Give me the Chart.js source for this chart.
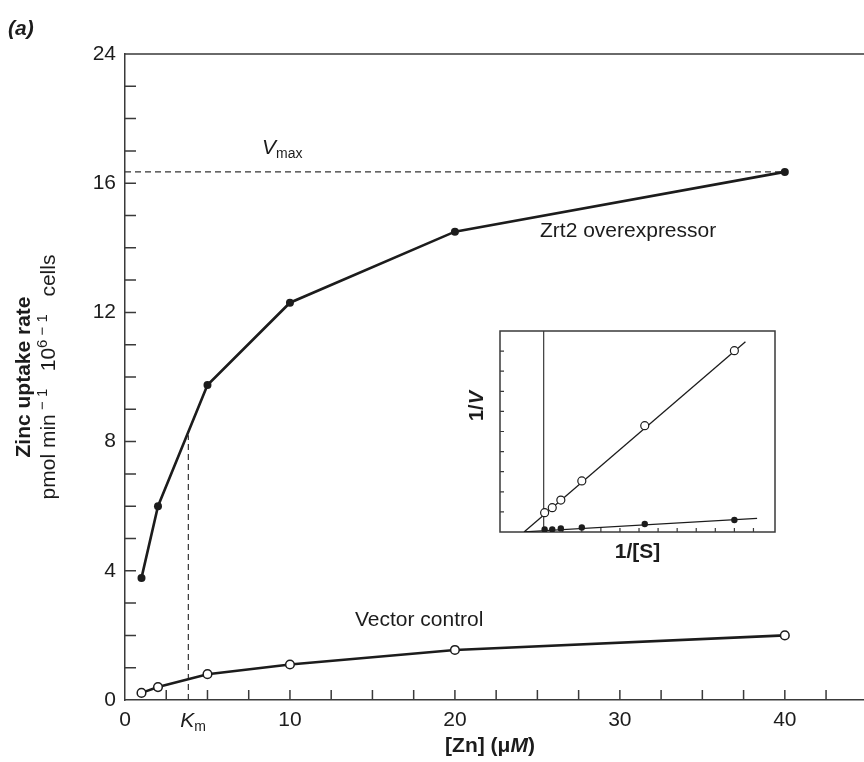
<!DOCTYPE html>
<html>
<head>
<meta charset="utf-8">
<script src="https://cdn.jsdelivr.net/npm/chart.js@4.4.1/dist/chart.umd.min.js"></script>
<style>
  html, body { margin: 0; padding: 0; background: #fff; }
  #wrap { position: relative; width: 864px; height: 762px; overflow: hidden; }
  #mainChart { position: absolute; left: 0; top: 0; }
  #insetChart { position: absolute; left: 455px; top: 320px; }
</style>
</head>
<body>
<div id="wrap">
  <canvas id="mainChart" width="872" height="762"></canvas>
  <canvas id="insetChart" width="335" height="255"></canvas>
</div>
<script>
// main plot data
const zincConc = [1, 2, 5, 10, 20, 40];
const zrt2Rate = [3.78, 6.0, 9.75, 12.3, 14.5, 16.35];
const vectorRate = [0.22, 0.4, 0.8, 1.1, 1.55, 2.0];
const vmaxValue = 16.35;
const kmValue = 3.84;
const kmTop = 8.2;

// y tick labels (the original figure prints "24" at the top tick)
const yLabelValues = [0, 4, 8, 12, 16, 20];
const yLabelTexts = ["0", "4", "8", "12", "16", "24"];
const xLabelValues = [0, 10, 20, 30, 40];

// inset (double reciprocal) data
const invS = [0.005, 0.045, 0.09, 0.2, 0.53, 1.0];
const invVControl = [0.96, 1.21, 1.59, 2.54, 5.29, 9.02];
const invVZrt2 = [0.13, 0.13, 0.18, 0.23, 0.4, 0.6];
const fitControlX = [-0.103, 1.058];
const fitControlY = [0, 9.47];
const fitZrt2X = [-0.103, 1.119];
const fitZrt2Y = [0.01, 0.68];

const FONT = "'Liberation Sans', Arial, Helvetica, sans-serif";
const INK = "#1c1c1c";
const AXIS = "#3a3a3a";

Chart.defaults.font.family = FONT;

const toPoints = (xs, ys) => xs.map((v, i) => ({ x: v, y: ys[i] }));

// draws a run of differently styled text pieces one after another
const drawParts = (ctx, parts, x, y, align) => {
    let total = 0;
    parts.forEach((p) => {
        ctx.font = p.font;
        p.w = ctx.measureText(p.text).width;
        total += p.w;
    });
    let cx = align === "center" ? x - total / 2 : x;
    parts.forEach((p) => {
        ctx.font = p.font;
        ctx.fillText(p.text, cx, y + (p.dy || 0));
        cx += p.w;
    });
};

const mainDecor = {
    id: "mainDecor",
    beforeDatasetsDraw(chart) {
        const { ctx, chartArea: a, scales: { x, y } } = chart;
        ctx.save();
        ctx.strokeStyle = AXIS;
        ctx.lineWidth = 1.5;
        ctx.beginPath();
        ctx.moveTo(a.left, a.top);
        ctx.lineTo(a.right, a.top);
        for (let v = 1; v < y.max; v++) {
            const py = y.getPixelForValue(v);
            ctx.moveTo(a.left, py);
            ctx.lineTo(a.left + 11, py);
        }
        for (let v = 2.5; v < x.max; v += 2.5) {
            const px = x.getPixelForValue(v);
            ctx.moveTo(px, a.bottom);
            ctx.lineTo(px, a.bottom - 10);
        }
        ctx.stroke();
        ctx.restore();
    },
    afterDraw(chart) {
        const { ctx, chartArea: a, scales: { x } } = chart;
        ctx.save();
        ctx.fillStyle = INK;
        ctx.textBaseline = "alphabetic";
        ctx.textAlign = "left";

        ctx.font = `italic bold 21px ${FONT}`;
        ctx.fillText("(a)", 8, 35);

        // y axis title
        ctx.save();
        ctx.translate(30, (a.top + a.bottom) / 2);
        ctx.rotate(-Math.PI / 2);
        drawParts(ctx, [{ text: "Zinc uptake rate", font: `bold 21px ${FONT}` }], 0, 0, "center");
        ctx.restore();

        ctx.save();
        ctx.translate(55, (a.top + a.bottom) / 2);
        ctx.rotate(-Math.PI / 2);
        drawParts(ctx, [
            { text: "pmol min", font: `21px ${FONT}` },
            { text: " \u2212 1", font: `15px ${FONT}`, dy: -8 },
            { text: "   10", font: `21px ${FONT}` },
            { text: "6 \u2212 1", font: `15px ${FONT}`, dy: -8 },
            { text: "   cells", font: `21px ${FONT}` },
        ], 0, 0, "center");
        ctx.restore();

        // x axis title
        drawParts(ctx, [
            { text: "[Zn] (\u03bc", font: `bold 21px ${FONT}` },
            { text: "M", font: `italic bold 21px ${FONT}` },
            { text: ")", font: `bold 21px ${FONT}` },
        ], 490, 752, "center");

        // Km under the axis
        const kmPx = x.getPixelForValue(kmValue);
        drawParts(ctx, [
            { text: "K", font: `italic 21px ${FONT}` },
            { text: "m", font: `14px ${FONT}`, dy: 4 },
        ], kmPx - 8, 727, "left");

        // Vmax
        drawParts(ctx, [
            { text: "V", font: `italic 21px ${FONT}` },
            { text: "max", font: `14px ${FONT}`, dy: 4 },
        ], 262, 154, "left");

        ctx.font = `21px ${FONT}`;
        ctx.fillText("Zrt2 overexpressor", 540, 237);
        ctx.fillText("Vector control", 355, 626);
        ctx.restore();
    },
};

const mainChart = new Chart(document.getElementById("mainChart"), {
    type: "scatter",
    data: {
        datasets: [
            {
                data: toPoints(zincConc, zrt2Rate),
                showLine: true,
                borderColor: INK,
                borderWidth: 2.6,
                pointRadius: 4,
                pointBackgroundColor: INK,
                pointBorderWidth: 0,
                order: 1,
            },
            {
                data: toPoints(zincConc, vectorRate),
                showLine: true,
                borderColor: INK,
                borderWidth: 2.6,
                pointRadius: 4.3,
                pointBackgroundColor: "#fff",
                pointBorderColor: INK,
                pointBorderWidth: 1.5,
                order: 1,
            },
            {
                // Vmax guide
                data: toPoints([0, zincConc[zincConc.length - 1]], [vmaxValue, vmaxValue]),
                showLine: true,
                borderColor: "#333",
                borderWidth: 1.2,
                borderDash: [6, 4],
                pointRadius: 0,
                order: 2,
            },
            {
                // Km guide
                data: toPoints([kmValue, kmValue], [0, kmTop]),
                showLine: true,
                borderColor: "#333",
                borderWidth: 1.2,
                borderDash: [6, 4],
                pointRadius: 0,
                order: 2,
            },
        ],
    },
    options: {
        responsive: false,
        animation: false,
        layout: { padding: { top: 54, right: 0, left: 0, bottom: 0 } },
        plugins: { legend: { display: false }, tooltip: { enabled: false } },
        elements: { line: { tension: 0 } },
        scales: {
            x: {
                type: "linear",
                min: 0,
                max: 44.8,
                afterFit: (s) => { s.height = 62; },
                grid: { display: false, drawTicks: false },
                border: { display: true, color: AXIS, width: 1.5 },
                ticks: {
                    stepSize: 2.5,
                    autoSkip: false,
                    maxRotation: 0,
                    padding: 8,
                    color: INK,
                    font: { size: 21 },
                    callback: (v) => (xLabelValues.some((t) => Math.abs(t - v) < 1e-6) ? String(Math.round(v)) : ""),
                },
            },
            y: {
                type: "linear",
                min: 0,
                max: 20,
                afterFit: (s) => { s.width = 125; },
                grid: { display: false, drawTicks: false },
                border: { display: true, color: AXIS, width: 1.5 },
                ticks: {
                    stepSize: 1,
                    autoSkip: false,
                    padding: 9,
                    color: INK,
                    font: { size: 21 },
                    callback: (v) => {
                        const i = yLabelValues.findIndex((t) => Math.abs(t - v) < 1e-6);
                        return i >= 0 ? yLabelTexts[i] : "";
                    },
                },
            },
        },
    },
    plugins: [mainDecor],
});

// Inset
const insetDecor = {
    id: "insetDecor",
    beforeDatasetsDraw(chart) {
        const { ctx, chartArea: a, scales: { x, y } } = chart;
        ctx.save();
        ctx.strokeStyle = AXIS;
        ctx.lineWidth = 1.5;
        ctx.strokeRect(a.left, a.top, a.width, a.height);
        ctx.lineWidth = 1.2;
        ctx.beginPath();
        const zx = x.getPixelForValue(0);
        ctx.moveTo(zx, a.top);
        ctx.lineTo(zx, a.bottom);
        for (let v = 1; v < y.max - 0.01; v++) {
            const py = y.getPixelForValue(v);
            ctx.moveTo(a.left, py);
            ctx.lineTo(a.left + 4, py);
        }
        for (let i = 1; i <= 11; i++) {
            const px = x.getPixelForValue(i / 10);
            ctx.moveTo(px, a.bottom);
            ctx.lineTo(px, a.bottom - 4);
        }
        ctx.stroke();
        ctx.restore();
    },
    afterDraw(chart) {
        const { ctx, chartArea: a } = chart;
        ctx.save();
        ctx.fillStyle = INK;
        ctx.textBaseline = "alphabetic";
        ctx.textAlign = "left";
        drawParts(ctx, [{ text: "1/[S]", font: `bold 21px ${FONT}` }], (a.left + a.right) / 2, a.bottom + 26, "center");
        ctx.translate(a.left - 17, a.top + 75);
        ctx.rotate(-Math.PI / 2);
        drawParts(ctx, [
            { text: "1/", font: `bold 20px ${FONT}` },
            { text: "V", font: `italic bold 20px ${FONT}` },
        ], 0, 0, "center");
        ctx.restore();
    },
};

const insetChart = new Chart(document.getElementById("insetChart"), {
    type: "scatter",
    data: {
        datasets: [
            {
                data: toPoints(invS, invVControl),
                pointRadius: 4,
                pointBackgroundColor: "#fff",
                pointBorderColor: INK,
                pointBorderWidth: 1.2,
                order: 1,
            },
            {
                data: toPoints(invS, invVZrt2),
                pointRadius: 3.2,
                pointBackgroundColor: INK,
                pointBorderWidth: 0,
                order: 1,
            },
            {
                data: toPoints(fitControlX, fitControlY),
                showLine: true,
                borderColor: INK,
                borderWidth: 1.3,
                pointRadius: 0,
                order: 2,
            },
            {
                data: toPoints(fitZrt2X, fitZrt2Y),
                showLine: true,
                borderColor: INK,
                borderWidth: 1.3,
                pointRadius: 0,
                order: 2,
            },
        ],
    },
    options: {
        responsive: false,
        animation: false,
        layout: { padding: { top: 11, right: 15, left: 45, bottom: 43 } },
        plugins: { legend: { display: false }, tooltip: { enabled: false } },
        scales: {
            x: { type: "linear", display: false, min: -0.229, max: 1.213 },
            y: { type: "linear", display: false, min: 0, max: 10 },
        },
    },
    plugins: [insetDecor],
});
</script>
</body>
</html>
